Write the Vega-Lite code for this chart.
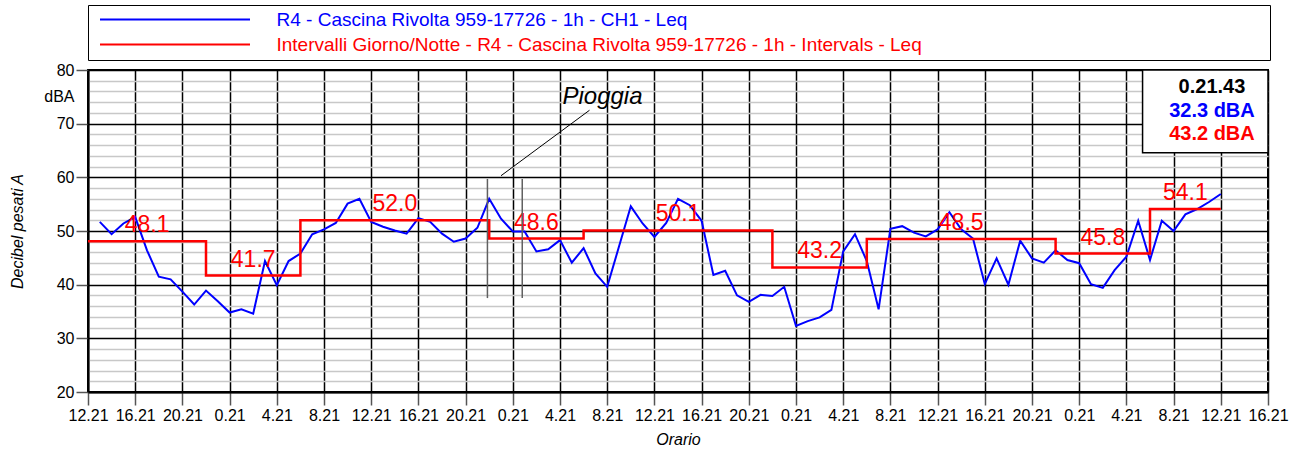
{
  "$schema": "https://vega.github.io/schema/vega-lite/v6.json",
  "width": 1180,
  "height": 322,
  "autosize": {"type": "none"},
  "padding": {"left": 88, "top": 70, "right": 30, "bottom": 60},
  "background": "white",
  "config": {
    "font": "Liberation Sans",
    "view": {"stroke": "black", "strokeWidth": 2}
  },
  "datasets": {
    "leq": [
      {"t": 1, "v": 51.7}, {"t": 2, "v": 49.4}, {"t": 3, "v": 51.4}, {"t": 4, "v": 52.6},
      {"t": 5, "v": 46.4}, {"t": 6, "v": 41.5}, {"t": 7, "v": 41.0}, {"t": 8, "v": 38.7},
      {"t": 9, "v": 36.3}, {"t": 10, "v": 38.9}, {"t": 11, "v": 36.9}, {"t": 12, "v": 34.8},
      {"t": 13, "v": 35.4}, {"t": 14, "v": 34.6}, {"t": 15, "v": 44.4}, {"t": 16, "v": 39.9},
      {"t": 17, "v": 44.4}, {"t": 18, "v": 45.8}, {"t": 19, "v": 49.4}, {"t": 20, "v": 50.3},
      {"t": 21, "v": 51.5}, {"t": 22, "v": 55.1}, {"t": 23, "v": 56.0}, {"t": 24, "v": 51.7},
      {"t": 25, "v": 50.8}, {"t": 26, "v": 50.1}, {"t": 27, "v": 49.5}, {"t": 28, "v": 52.4},
      {"t": 29, "v": 51.7}, {"t": 30, "v": 49.5}, {"t": 31, "v": 48.0}, {"t": 32, "v": 48.6},
      {"t": 33, "v": 50.6}, {"t": 34, "v": 56.0}, {"t": 35, "v": 52.3}, {"t": 36, "v": 49.9},
      {"t": 37, "v": 49.9}, {"t": 38, "v": 46.2}, {"t": 39, "v": 46.6}, {"t": 40, "v": 48.3},
      {"t": 41, "v": 44.1}, {"t": 42, "v": 46.8}, {"t": 43, "v": 42.1}, {"t": 44, "v": 39.6},
      {"t": 45, "v": 47.1}, {"t": 46, "v": 54.6}, {"t": 47, "v": 51.4}, {"t": 48, "v": 48.9},
      {"t": 49, "v": 51.5}, {"t": 50, "v": 56.0}, {"t": 51, "v": 54.8}, {"t": 52, "v": 51.9},
      {"t": 53, "v": 41.8}, {"t": 54, "v": 42.6}, {"t": 55, "v": 38.0}, {"t": 56, "v": 36.8},
      {"t": 57, "v": 38.1}, {"t": 58, "v": 37.9}, {"t": 59, "v": 39.6}, {"t": 60, "v": 32.3},
      {"t": 61, "v": 33.2}, {"t": 62, "v": 33.9}, {"t": 63, "v": 35.3}, {"t": 64, "v": 46.2},
      {"t": 65, "v": 49.4}, {"t": 66, "v": 44.4}, {"t": 67, "v": 35.4}, {"t": 68, "v": 50.4},
      {"t": 69, "v": 50.9}, {"t": 70, "v": 49.7}, {"t": 71, "v": 49.0}, {"t": 72, "v": 50.3},
      {"t": 73, "v": 53.5}, {"t": 74, "v": 50.3}, {"t": 75, "v": 48.6}, {"t": 76, "v": 40.1},
      {"t": 77, "v": 44.9}, {"t": 78, "v": 40.0}, {"t": 79, "v": 48.2}, {"t": 80, "v": 44.9},
      {"t": 81, "v": 44.1}, {"t": 82, "v": 46.4}, {"t": 83, "v": 44.6}, {"t": 84, "v": 44.0},
      {"t": 85, "v": 40.1}, {"t": 86, "v": 39.4}, {"t": 87, "v": 42.7}, {"t": 88, "v": 45.2},
      {"t": 89, "v": 51.9}, {"t": 90, "v": 44.6}, {"t": 91, "v": 51.9}, {"t": 92, "v": 50.0},
      {"t": 93, "v": 53.1}, {"t": 94, "v": 54.1}, {"t": 95, "v": 55.4}, {"t": 96, "v": 56.9}
    ],
    "intervals": [
      {"int": 1, "t": 0, "v": 48.1}, {"int": 1, "t": 10, "v": 48.1},
      {"int": 2, "t": 10, "v": 41.7}, {"int": 2, "t": 18, "v": 41.7},
      {"int": 3, "t": 18, "v": 52.0}, {"int": 3, "t": 34, "v": 52.0},
      {"int": 4, "t": 34, "v": 48.6}, {"int": 4, "t": 42, "v": 48.6},
      {"int": 5, "t": 42, "v": 50.1}, {"int": 5, "t": 58, "v": 50.1},
      {"int": 6, "t": 58, "v": 43.2}, {"int": 6, "t": 66, "v": 43.2},
      {"int": 7, "t": 66, "v": 48.5}, {"int": 7, "t": 82, "v": 48.5},
      {"int": 8, "t": 82, "v": 45.8}, {"int": 8, "t": 90, "v": 45.8},
      {"int": 9, "t": 90, "v": 54.1}, {"int": 9, "t": 96, "v": 54.1}
    ],
    "rain": [{"t": 33.85}, {"t": 36.8}],
    "one": [{}]
  },
  "layer": [
    {
      "data": {"name": "leq"},
      "mark": {"type": "line", "strokeWidth": 2},
      "encoding": {
        "x": {
          "field": "t", "type": "quantitative",
          "scale": {"domain": [0, 100], "nice": false, "zero": false},
          "axis": {
            "title": "Orario",
            "titleFontStyle": "italic", "titleFontWeight": "normal", "titleFontSize": 16,
            "titleColor": "black", "titlePadding": 8,
            "values": [0,4,8,12,16,20,24,28,32,36,40,44,48,52,56,60,64,68,72,76,80,84,88,92,96,100],
            "tickCount": 200,
            "labelExpr": "((12 + datum.value) % 24) + '.21'",
            "labelFontSize": 16, "labelColor": "black", "labelFlush": false, "labelOverlap": false,
            "labelPadding": 2,
            "tickSize": 13, "tickColor": "#555555", "tickWidth": 1.5,
            "grid": true, "gridColor": "black", "gridWidth": 1.5,
            "domainColor": "black", "domainWidth": 2
          }
        },
        "y": {
          "field": "v", "type": "quantitative",
          "scale": {"domain": [20, 80], "nice": false, "zero": false},
          "axis": {
            "title": "Decibel pesati A",
            "titleFontStyle": "italic", "titleFontWeight": "normal", "titleFontSize": 16,
            "titleColor": "black", "titlePadding": 18,
            "values": [20,22,24,26,28,30,32,34,36,38,40,42,44,46,48,50,52,54,56,58,60,62,64,66,68,70,72,74,75,76,78,80],
            "tickCount": 200,
            "labelExpr": "datum.value % 10 === 0 ? ('' + datum.value) : (datum.value === 75 ? 'dBA' : '')",
            "labelFontSize": 16, "labelColor": "black", "labelOverlap": false, "labelPadding": 2,
            "tickSize": 12, "tickColor": "#555555", "tickWidth": 1.5,
            "tickOpacity": {"condition": {"test": "datum.value % 10 === 0", "value": 1}, "value": 0},
            "grid": true,
            "gridColor": {"condition": {"test": "datum.value % 10 === 0", "value": "#000000"}, "value": "#c8c8c8"},
            "gridOpacity": {"condition": {"test": "datum.value === 75", "value": 0}, "value": 1},
            "gridWidth": 1.5,
            "domainColor": "black", "domainWidth": 2
          }
        },
        "color": {
          "datum": "R4 - Cascina Rivolta 959-17726 - 1h - CH1 - Leq",
          "type": "nominal",
          "scale": {
            "domain": ["R4 - Cascina Rivolta 959-17726 - 1h - CH1 - Leq", "Intervalli Giorno/Notte - R4 - Cascina Rivolta 959-17726 - 1h - Intervals - Leq"],
            "range": ["#0000ff", "#ff0000"]
          },
          "legend": {
            "orient": "none", "legendX": 0, "legendY": -65,
            "direction": "vertical", "title": null,
            "symbolType": "M-1,0H29", "symbolSize": 100, "symbolStrokeWidth": 2,
            "symbolOffset": 2.5, "labelOffset": 162,
            "labelFontSize": 19, "labelLimit": 3000,
            "labelExpr": "pad(datum.label, 144, ' ', 'right') + '\u200b'",
            "padding": 5, "rowPadding": 5,
            "strokeColor": "black", "fillColor": "white",
            "encode": {
              "labels": {"update": {"fill": {"signal": "indexof(datum.value, 'Intervalli') === 0 ? '#ff0000' : '#0000ff'"}}}
            }
          }
        }
      }
    },
    {
      "data": {"name": "intervals"},
      "mark": {"type": "line", "strokeWidth": 2.5},
      "encoding": {
        "x": {"field": "t", "type": "quantitative"},
        "y": {"field": "v", "type": "quantitative"},
        "color": {"datum": "Intervalli Giorno/Notte - R4 - Cascina Rivolta 959-17726 - 1h - Intervals - Leq", "type": "nominal"},
        "order": [{"field": "int"}, {"field": "t"}]
      }
    },
    {
      "data": {"name": "intervals"},
      "mark": {"type": "text", "color": "#ff0000", "fontSize": 23, "dy": -9, "baseline": "alphabetic", "align": "center"},
      "encoding": {
        "x": {"aggregate": "mean", "field": "t", "type": "quantitative"},
        "y": {"aggregate": "mean", "field": "v", "type": "quantitative"},
        "text": {"aggregate": "mean", "field": "v", "type": "quantitative", "format": ".1f"},
        "detail": {"field": "int"}
      }
    },
    {
      "data": {"name": "rain"},
      "mark": {"type": "rule", "color": "#606060", "strokeWidth": 1.5},
      "encoding": {
        "x": {"field": "t", "type": "quantitative"},
        "y": {"datum": 37.5, "type": "quantitative"},
        "y2": {"datum": 59.7}
      }
    },
    {
      "data": {"name": "one"},
      "mark": {"type": "rule", "color": "black", "strokeWidth": 1},
      "encoding": {
        "x": {"datum": 35.0, "type": "quantitative"},
        "x2": {"datum": 42.5},
        "y": {"datum": 60.3, "type": "quantitative"},
        "y2": {"datum": 72.5}
      }
    },
    {
      "data": {"name": "one"},
      "mark": {"type": "text", "text": "Pioggia", "fontSize": 24, "fontStyle": "italic", "color": "black", "align": "center", "baseline": "middle"},
      "encoding": {
        "x": {"datum": 43.6, "type": "quantitative"},
        "y": {"datum": 75.0, "type": "quantitative"}
      }
    },
    {
      "data": {"name": "one"},
      "mark": {"type": "rect", "fill": "white", "stroke": "black", "strokeWidth": 1.5},
      "encoding": {
        "x": {"datum": 89.37, "type": "quantitative"},
        "x2": {"datum": 100},
        "y": {"datum": 80, "type": "quantitative"},
        "y2": {"datum": 64.6}
      }
    },
    {
      "data": {"name": "one"},
      "mark": {"type": "text", "text": "0.21.43", "fontSize": 20, "fontWeight": "bold", "color": "black", "align": "center", "baseline": "middle"},
      "encoding": {
        "x": {"datum": 95.25, "type": "quantitative"},
        "y": {"datum": 76.8, "type": "quantitative"}
      }
    },
    {
      "data": {"name": "one"},
      "mark": {"type": "text", "text": "32.3 dBA", "fontSize": 20, "fontWeight": "bold", "color": "#0000ff", "align": "center", "baseline": "middle"},
      "encoding": {
        "x": {"datum": 95.25, "type": "quantitative"},
        "y": {"datum": 72.4, "type": "quantitative"}
      }
    },
    {
      "data": {"name": "one"},
      "mark": {"type": "text", "text": "43.2 dBA", "fontSize": 20, "fontWeight": "bold", "color": "#ff0000", "align": "center", "baseline": "middle"},
      "encoding": {
        "x": {"datum": 95.25, "type": "quantitative"},
        "y": {"datum": 68.1, "type": "quantitative"}
      }
    }
  ]
}
